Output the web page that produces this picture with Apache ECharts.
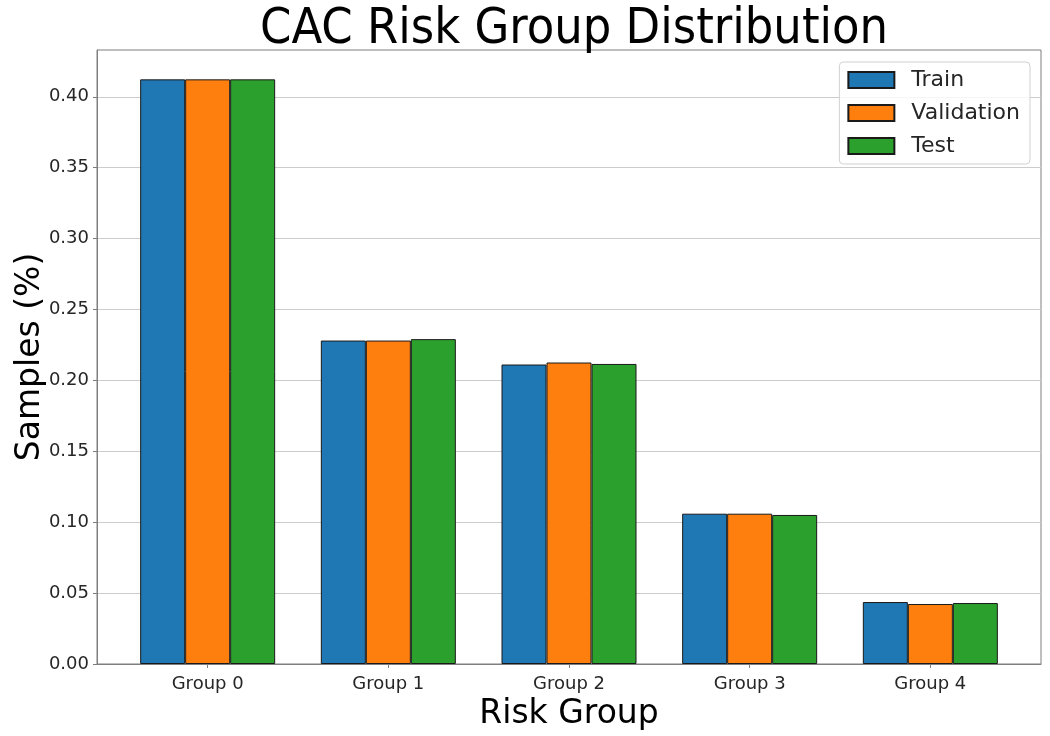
<!DOCTYPE html>
<html>
<head>
<meta charset="utf-8">
<script src="https://cdn.jsdelivr.net/npm/echarts@6/dist/echarts.min.js"></script>
<style>html,body{margin:0;padding:0;background:#fff}#c{width:1050px;height:736px}</style>
</head>
<body>
<div id="c"></div>
<script>
const categories = ['Group 0', 'Group 1', 'Group 2', 'Group 3', 'Group 4'];
const trainValues = [0.4123, 0.2281, 0.2112, 0.1060, 0.0437];
const validationValues = [0.4123, 0.2281, 0.2126, 0.1060, 0.0423];
const testValues = [0.4123, 0.2291, 0.2116, 0.1051, 0.0430];
const yTicks = [0, 0.05, 0.10, 0.15, 0.20, 0.25, 0.30, 0.35, 0.40];

const FONT = 'DejaVu Sans';
const chart = echarts.init(document.getElementById('c'));
const toPairs = arr => arr.map((v, i) => [i, v]);
const mk = (name, color, vals) => ({
  name, type: 'bar', data: toPairs(vals), barWidth: 45, barGap: '0%',
  itemStyle: { color, borderColor: '#1a1a1a', borderWidth: 1 }
});
chart.setOption({
  animation: false,
  textStyle: { fontFamily: FONT },
  title: {
    text: 'CAC Risk Group Distribution', left: 569, top: 0, textAlign: 'center',
    textStyle: { fontFamily: "'DejaVu Sans Condensed', 'Liberation Sans Narrow', sans-serif", fontSize: 50, fontWeight: 'normal', color: '#000' }
  },
  legend: {
    orient: 'vertical', right: 20, top: 62, icon: 'rect',
    itemWidth: 46, itemHeight: 16, itemGap: 9,
    padding: [6, 10, 6, 8],
    borderColor: '#d0d0d0', borderWidth: 1, borderRadius: 4, backgroundColor: 'rgba(255,255,255,0.8)',
    textStyle: { fontFamily: FONT, fontSize: 22, lineHeight: 24, color: '#262626', padding: [0, 0, 0, 12] },
    data: ['Train', 'Validation', 'Test']
  },
  grid: { left: 97, right: 9, top: 50, bottom: 72, outerBoundsMode: 'none', containLabel: false, show: true, borderColor: '#7f7f7f', borderWidth: 1, backgroundColor: 'transparent' },
  xAxis: {
    type: 'value', min: -0.6125, max: 4.6125,
    name: 'Risk Group', nameLocation: 'middle', nameGap: 30,
    nameTextStyle: { fontFamily: FONT, fontSize: 33, color: '#000' },
    axisLine: { show: true, onZero: false, lineStyle: { color: '#7f7f7f' } },
    axisTick: { show: true, customValues: [0, 1, 2, 3, 4], length: 4, lineStyle: { color: '#7f7f7f' } },
    axisLabel: { customValues: [0, 1, 2, 3, 4], formatter: v => categories[Math.round(v)], fontFamily: FONT, fontSize: 18, color: '#262626', margin: 11 },
    splitLine: { show: false }
  },
  yAxis: {
    type: 'value', min: 0, max: 0.433,
    name: 'Samples (%)', nameLocation: 'middle', nameGap: 50, nameMoveOverlap: false,
    nameTextStyle: { fontFamily: FONT, fontSize: 33, color: '#000' },
    axisLine: { show: true, onZero: false, lineStyle: { color: '#7f7f7f' } },
    axisTick: { show: true, customValues: yTicks, length: 4, lineStyle: { color: '#7f7f7f' } },
    axisLabel: { customValues: yTicks, formatter: v => v.toFixed(2), fontFamily: FONT, fontSize: 18, color: '#262626', margin: 8 },
    splitLine: { show: true, lineStyle: { color: '#cccccc', width: 1 } }
  },
  series: [
    mk('Train', '#1f77b4', trainValues),
    mk('Validation', '#ff7f0e', validationValues),
    mk('Test', '#2ca02c', testValues)
  ]
});
</script>
</body>
</html>
